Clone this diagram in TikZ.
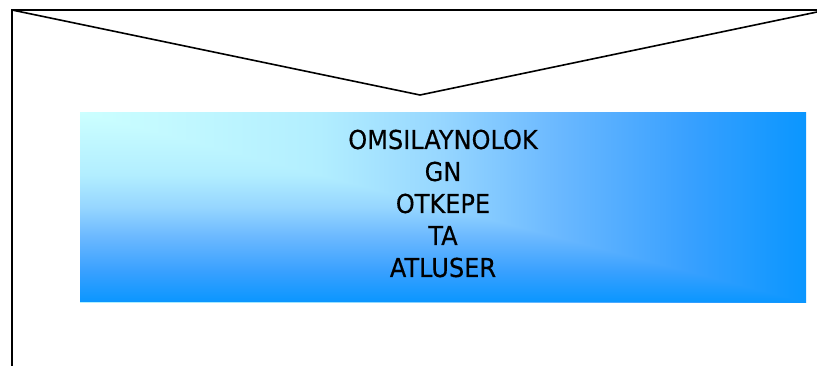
\documentclass[tikz,border=0pt]{standalone}
\usepackage{fontspec}
\newfontfamily\tahfont[FakeStretch=0.925,FakeBold=0.4]{DejaVu Sans}
\definecolor{cA}{HTML}{0A96FF}
\definecolor{cB}{HTML}{38A0FF}
\definecolor{cC}{HTML}{6AB8FF}
\definecolor{cD}{HTML}{96D6FF}
\definecolor{cE}{HTML}{B2EEFF}
\definecolor{cF}{HTML}{CCFFFF}
\pgfdeclarehorizontalshading{bhoriz}{100bp}{color(0bp)=(cF); color(25bp)=(cF); color(41.5bp)=(cE); color(50bp)=(cD); color(58bp)=(cC); color(67bp)=(cB); color(75bp)=(cA); color(100bp)=(cA)}
\pgfdeclareverticalshading{bvert}{100bp}{color(0bp)=(cA); color(25bp)=(cA); color(33bp)=(cB); color(42bp)=(cC); color(50bp)=(cD); color(58.5bp)=(cE); color(75bp)=(cF); color(100bp)=(cF)}
\tikzset{
  frameline/.style={line width=2pt, black},
  vline/.style={line width=1.6pt, black, line join=miter},
  labeltext/.style={inner sep=0pt, align=center, text=black, font={\tahfont\fontsize{26}{32}\selectfont}}
}
\begin{document}
\begin{tikzpicture}[x=1pt,y=-1pt]
  \useasboundingbox (0,0) rectangle (817,365);
  \clip (0,0) rectangle (817,365);
  \fill[white] (0,0) rectangle (817,365);
  % coordinates
  \coordinate (tl) at (12,10);
  \coordinate (tr) at (830,10);
  \coordinate (bl) at (12,380);
  \coordinate (vb) at (420,95);
  \coordinate (vr) at (817,12);
  \coordinate (boxnw) at (80,112);
  \coordinate (boxse) at (806,302);
  \coordinate (boxsw) at (80,302);
  % shaded box
  \shade[shading=bhoriz] (boxnw) rectangle (boxse);
  \shade[shading=bvert] (boxnw) -- (boxse) -- (boxsw) -- cycle;
  % frame
  \draw[frameline] (bl) -- (tl) -- (tr);
  \draw[vline] (tl) -- (vb) -- (vr);
  % text
  \node[labeltext] (label) at (443,203.5) {OMSILAYNOLOK\\GN\\OTKEPE\\TA\\ATLUSER};
\end{tikzpicture}
\end{document}
